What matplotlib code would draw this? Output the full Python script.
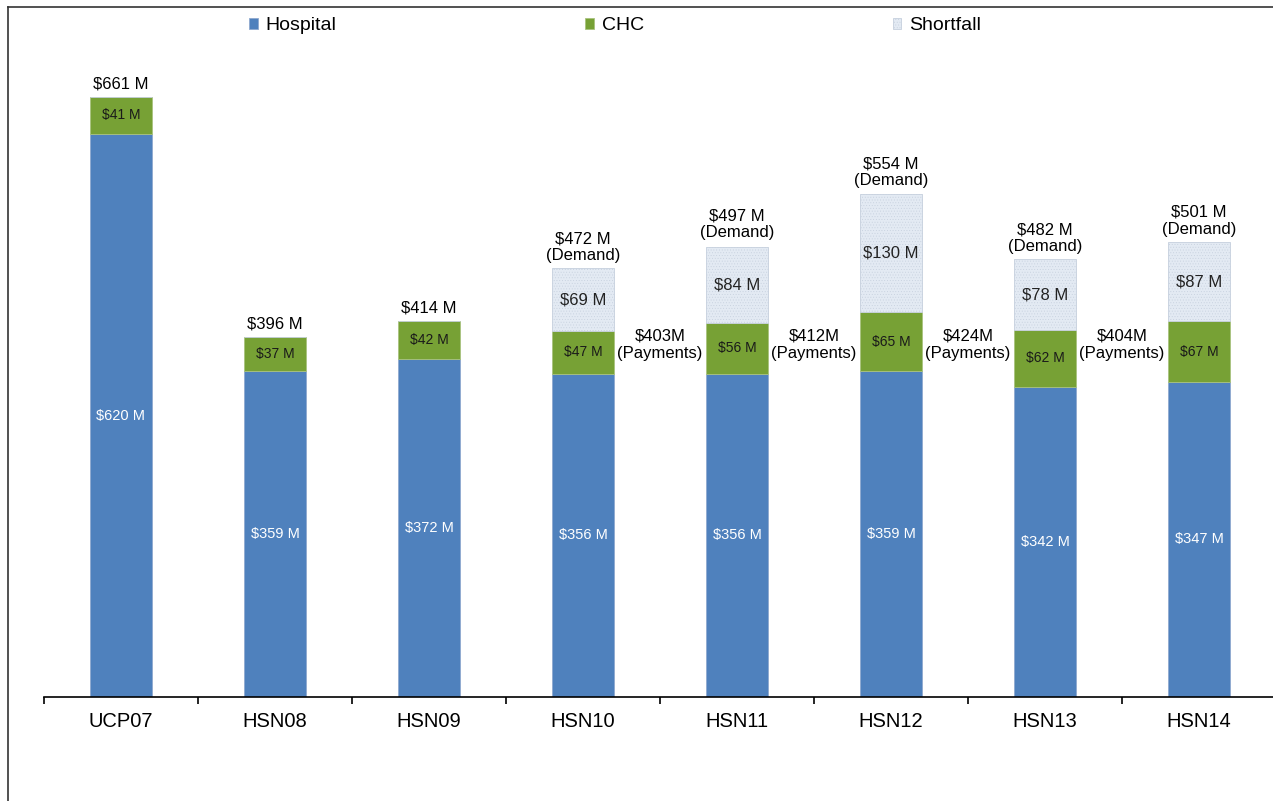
import matplotlib.pyplot as plt
from matplotlib.lines import Line2D
import numpy as np

plt.rcParams['font.family'] = ['Liberation Sans', 'DejaVu Sans']
plt.rcParams['hatch.linewidth'] = 0.3

# data ($ millions)
years = ["UCP07", "HSN08", "HSN09", "HSN10", "HSN11", "HSN12", "HSN13", "HSN14"]
hospital = [620, 359, 372, 356, 356, 359, 342, 347]
chc = [41, 37, 42, 47, 56, 65, 62, 67]
shortfall = [0, 0, 0, 69, 84, 130, 78, 87]
totals = [661, 396, 414, 472, 497, 554, 482, 501]
payments = [403, 412, 424, 404]  # between HSN10/11, 11/12, 12/13, 13/14

col_hosp = "#4F81BD"
col_chc = "#77A135"
col_short = "#E3EAF3"

fig = plt.figure(figsize=(12.73, 8.01), dpi=100)
ax = fig.add_axes([44 / 1273, 104 / 801, 1232 / 1273, 690 / 801])

x = np.arange(len(years))
w = 0.4
hosp = np.array(hospital)
ch = np.array(chc)
sf = np.array(shortfall)

ax.bar(x, hosp, w, color=col_hosp, edgecolor="#8FA9CF", linewidth=0.6, label="Hospital")
ax.bar(x, ch, w, bottom=hosp, color=col_chc, edgecolor="#A9C27E", linewidth=0.6, label="CHC")
ax.bar(x, sf, w, bottom=hosp + ch, color=col_short, edgecolor="#C5CFDD", linewidth=0.6,
       hatch="......", label="Shortfall")

for i in range(len(years)):
    ax.text(x[i], hosp[i] / 2, "$%d M" % hosp[i], ha="center", va="center",
            color="white", fontsize=10.5)
    ax.text(x[i], hosp[i] + ch[i] / 2, "$%d M" % ch[i], ha="center", va="center",
            color="#1A1A1A", fontsize=10)
    if sf[i] > 0:
        ax.text(x[i], hosp[i] + ch[i] + sf[i] / 2, "$%d M" % sf[i], ha="center",
                va="center", color="#222222", fontsize=12)
        lbl = "$%d M\n(Demand)" % totals[i]
    else:
        lbl = "$%d M" % totals[i]
    ax.annotate(lbl, (x[i], totals[i]), xytext=(0, 4), textcoords="offset points",
                ha="center", va="bottom", fontsize=12, linespacing=1.15)

for j, p in enumerate(payments):
    ax.text(3.5 + j, 388, "$%dM\n(Payments)" % p, ha="center", va="center",
            fontsize=12, linespacing=1.25)

ax.set_xlim(-0.5, 7.5)
ax.set_ylim(0, 760)
for s in ["top", "right", "left"]:
    ax.spines[s].set_visible(False)
ax.spines["bottom"].set_linewidth(1.2)
ax.set_yticks([])
ax.set_xticks(x)
ax.set_xticklabels(years, fontsize=14.5)
ax.tick_params(axis="x", which="major", length=0, pad=11)
ax.set_xticks(np.arange(-0.5, 8.0, 1.0), minor=True)
ax.tick_params(axis="x", which="minor", length=5, width=1.2, direction="out")

fig.legend(loc="center", bbox_to_anchor=(615 / 1273, 1 - 26 / 801), ncol=3,
           frameon=False, fontsize=14, handlelength=0.45, handleheight=0.45,
           handletextpad=0.4, columnspacing=12.8)

# frame lines at top and left of the picture
fig.add_artist(Line2D([8 / 1273, 1], [1 - 7 / 801, 1 - 7 / 801], color="#333333", lw=1.2))
fig.add_artist(Line2D([8 / 1273, 8 / 1273], [0, 1 - 7 / 801], color="#333333", lw=1.2))

fig.savefig("out.png", dpi=100)
